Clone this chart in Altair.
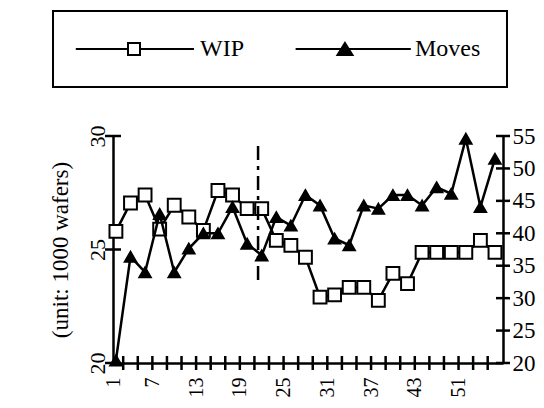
import altair as alt
import pandas as pd

FONT = "Liberation Serif"

# ---- data ----
days = [1, 3, 5, 7, 9, 11, 13, 15, 17, 19, 21, 23, 25, 27, 29, 31, 33, 35, 37,
        39, 41, 43, 45, 47, 49, 51, 53]
wip = [25.8, 27.05, 27.4, 25.9, 26.95, 26.43, 25.84, 27.6, 27.4, 26.8, 26.8,
       25.4, 25.18, 24.66, 22.9, 23.0, 23.33, 23.33, 22.76, 23.95, 23.5,
       24.87, 24.87, 24.87, 24.87, 25.4, 24.87]
moves = [20.4, 36.4, 34.0, 43.0, 34.0, 37.65, 40.0, 40.0, 44.06, 38.4, 36.6,
         42.5, 41.2, 45.9, 44.3, 39.2, 38.16, 44.3, 43.8, 45.9, 45.9, 44.3,
         47.1, 46.1, 54.6, 44.06, 51.5]
series = ["WIP", "Moves"]
x_label_values = [0.6, 6, 12, 18, 24, 30, 36, 42, 48]
x_label_text = ["1", "7", "13", "19", "25", "31", "37", "43", "51"]
x_tick_values = [2, 4, 6, 8, 10, 12, 14, 16, 18, 20, 22, 24, 26, 28, 30, 32,
                 34, 36, 38, 40, 42, 44, 46, 48, 50, 52]
left_tick_values = [20, 25, 30]
right_tick_values = [20, 25, 30, 35, 40, 45, 50, 55]
marker_day = [20.5]
marker_low = [32.8]
marker_high = [54.3]

df = pd.DataFrame({"day": days, "WIP": wip, "Moves": moves})

label_map = "{" + ",".join(f"'{v}':'{t}'" for v, t in
                           zip(x_label_values, x_label_text)) + "}"
x_scale = alt.Scale(domain=[0.6, 54.1], nice=False, zero=False)
x_axis = alt.Axis(values=x_label_values,
                  labelExpr=f"{label_map}['' + datum.value]",
                  labelAngle=-90, labelAlign="right", labelBaseline="middle",
                  labelPadding=14, ticks=False, grid=False, title=None,
                  domainColor="black", domainWidth=2.5,
                  labelFont=FONT, labelFontSize=20, labelColor="black",
                  labelOverlap=False, labelFlush=False)
x_enc = alt.X("day:Q", scale=x_scale, axis=x_axis)

left_axis = alt.Axis(values=left_tick_values, labelAngle=-90,
                     labelAlign="center", labelBaseline="bottom",
                     labelPadding=4, ticks=False, grid=False,
                     domainColor="black", domainWidth=2.5,
                     labelFont=FONT, labelFontSize=22, labelColor="black",
                     labelFlush=False, labelOverlap=False,
                     title="(unit: 1000 wafers)", titleFont=FONT,
                     titleFontSize=23, titleFontWeight="normal",
                     titleColor="black", titlePadding=14)
y_left = alt.Y("WIP:Q", scale=alt.Scale(domain=[20, 30], nice=False, zero=False),
               axis=left_axis)

right_axis = alt.Axis(orient="right", values=right_tick_values, ticks=False,
                      grid=False, domainColor="black", domainWidth=2.5,
                      labelFont=FONT, labelFontSize=23, labelColor="black",
                      labelPadding=9, labelFlush=False, labelOverlap=False,
                      title=None)
y_right = alt.Y("Moves:Q", scale=alt.Scale(domain=[20, 55], nice=False, zero=False),
                axis=right_axis)

# legend symbols: line with marker in the middle (unit box paths)
path_wip = "M-9.7,0H-1M1,0H10M-1,-1H1V1H-1Z"
path_moves = "M-8.9,0H10.3M-0.67,-1L0.58,1H-1.92Z"

leg = alt.Legend(orient="none", legendX=-60, legendY=-125,
                 direction="horizontal", title=None,
                 labelFont=FONT, labelFontSize=24, labelColor="black",
                 labelExpr="datum.label + '\u00a0\u00a0\u00a0'",
                 symbolSize=144, symbolStrokeColor="black",
                 symbolStrokeWidth=2, symbolOffset=43, labelOffset=54,
                 columnPadding=47, padding=26,
                 strokeColor="black", fillColor="white")

# ---- WIP group (left axis) ----
wip_line = alt.Chart(df).mark_line(color="black", strokeWidth=2.5).encode(
    x=x_enc, y=y_left)
wip_pts = alt.Chart(df).mark_point(shape="square", size=165, filled=True,
                                   fill="white", stroke="black",
                                   strokeWidth=2, opacity=1).encode(
    x=x_enc, y=y_left)
left_ticks = alt.Chart(pd.DataFrame({"day": [0.6] * len(left_tick_values),
                                     "WIP": left_tick_values})).mark_tick(
    orient="horizontal", color="black", thickness=2.5, size=16, opacity=1
).encode(x=x_enc, y=y_left)
bottom_ticks = alt.Chart(pd.DataFrame({"day": x_tick_values,
                                       "WIP": [20] * len(x_tick_values)})).mark_tick(
    orient="vertical", color="black", thickness=2.5, size=14, opacity=1
).encode(x=x_enc, y=y_left)
legend_layer = alt.Chart(df).transform_calculate(series="'WIP'").transform_filter(
    "datum.day < 0").mark_point(filled=True, opacity=1, strokeWidth=2,
                                size=144).encode(
    x=x_enc, y=y_left,
    shape=alt.Shape("series:N", scale=alt.Scale(domain=series,
                                                range=[path_wip, path_moves]),
                    legend=leg),
    fill=alt.Fill("series:N", scale=alt.Scale(domain=series,
                                              range=["white", "black"]),
                  legend=leg),
    stroke=alt.Stroke("series:N", scale=alt.Scale(domain=series,
                                                  range=["black", "black"]),
                      legend=leg))

group_wip = alt.layer(wip_line, bottom_ticks, left_ticks, wip_pts, legend_layer)

# ---- Moves group (right axis) ----
moves_line = alt.Chart(df).mark_line(color="black", strokeWidth=2.5).encode(
    x=x_enc, y=y_right)
moves_pts = alt.Chart(df).mark_point(shape="triangle-up", size=150, filled=True,
                                     fill="black", stroke="black",
                                     strokeWidth=1.5, opacity=1).encode(
    x=x_enc, y=y_right)
right_ticks = alt.Chart(pd.DataFrame({"day": [54.1] * len(right_tick_values),
                                      "Moves": right_tick_values})).mark_tick(
    orient="horizontal", color="black", thickness=2.5, size=14, opacity=1
).encode(x=x_enc, y=y_right)
marker = alt.Chart(pd.DataFrame({"day": marker_day, "Moves": marker_low,
                                 "Moves2": marker_high})).mark_rule(
    color="black", strokeWidth=2.5, strokeDash=[14, 6, 4, 6]).encode(
    x=x_enc, y=y_right, y2="Moves2:Q")

group_moves = alt.layer(marker, moves_line, right_ticks, moves_pts)

chart = alt.layer(group_wip, group_moves).resolve_scale(
    y="independent"
).properties(
    width=390, height=227,
    padding={"left": 105, "top": 128, "right": 33, "bottom": 37},
    autosize=alt.AutoSizeParams(type="none"),
    background="white",
).configure_view(stroke=None).configure_legend(strokeWidth=2)

chart.save("out.html", embed_options={"renderer": "svg", "actions": False})
